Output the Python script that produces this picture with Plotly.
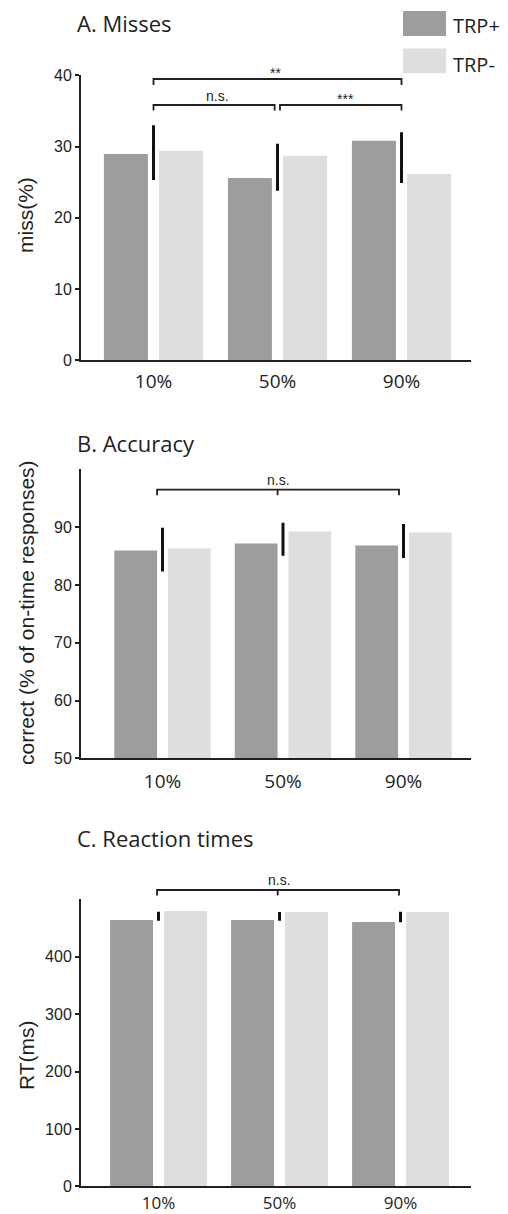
import plotly.graph_objects as go

# ---------------- data ----------------
categories = ["10%", "50%", "90%"]
groups = ["TRP+", "TRP-"]

miss_trp_plus = [28.95, 25.6, 30.8]
miss_trp_minus = [29.4, 28.7, 26.15]
miss_err_center = [29.15, 27.1, 28.45]
miss_err_half = [3.85, 3.3, 3.55]

acc_trp_plus = [85.95, 87.15, 86.8]
acc_trp_minus = [86.3, 89.25, 89.05]
acc_err_center = [86.1, 87.9, 87.6]
acc_err_half = [3.8, 2.85, 2.95]

rt_trp_plus = [464, 464, 460.5]
rt_trp_minus = [479.5, 478, 478]
rt_err_center = [470.5, 470.3, 469.2]
rt_err_half = [7.8, 7.6, 9.3]

miss_ticks = [0, 10, 20, 30, 40]
acc_ticks = [50, 60, 70, 80, 90]
rt_ticks = [0, 100, 200, 300, 400]

# ---------------- style ----------------
PAGE_OFF = 8                      # default body margin of the page
W, H = 508 - PAGE_OFF, 1214 - PAGE_OFF
DARK = "#9c9d9c"
LIGHT = "#dedede"
INK = "#231f20"
SANS = "Liberation Sans, Arial, sans-serif"
MYR = "Open Sans, Noto Sans, sans-serif"


def px(x):
    return (x - PAGE_OFF) / W


def py(y):
    return 1 - (y - PAGE_OFF) / H


xpos = list(range(len(categories)))

panels = [
    dict(plus=miss_trp_plus, minus=miss_trp_minus, ec=miss_err_center, eh=miss_err_half,
         ticks=miss_ticks, yrange=[0, 40], ydom=[py(360.3), py(75.3)],
         xrange=[(81 - 153.5) / 124, (471 - 153.5) / 124], standoff=3, xfs=19,
         title="A. Misses", title_y=22.6, ylabel="miss(%)", ylabel_y=215),
    dict(plus=acc_trp_plus, minus=acc_trp_minus, ec=acc_err_center, eh=acc_err_half,
         ticks=acc_ticks, yrange=[50, 100], ydom=[py(758.3), py(469.3)],
         xrange=[(81 - 162.5) / 120.5, (471 - 162.5) / 120.5], standoff=5, xfs=19,
         title="B. Accuracy", title_y=442.5, ylabel="correct (% of on-time responses)", ylabel_y=613),
    dict(plus=rt_trp_plus, minus=rt_trp_minus, ec=rt_err_center, eh=rt_err_half,
         ticks=rt_ticks, yrange=[0, 500], ydom=[py(1186.3), py(899.3)],
         xrange=[(81 - 158.5) / 121, (471 - 158.5) / 121], standoff=0, xfs=17,
         title="C. Reaction times", title_y=838, ylabel="RT(ms)", ylabel_y=1055),
]

BAR_W = 0.355
OFF_PLUS = -0.40
OFF_MINUS = 0.045

fig = go.Figure()
layout = dict(width=W, height=H, margin=dict(l=0, r=0, t=0, b=0, autoexpand=False),
              paper_bgcolor="white", plot_bgcolor="white", showlegend=False,
              barmode="overlay")
shapes = []
annotations = []

for i, p in enumerate(panels, start=1):
    xa = "x" if i == 1 else f"x{i}"
    ya = "y" if i == 1 else f"y{i}"
    fig.add_trace(go.Bar(x=xpos, y=p["plus"], name=groups[0], marker=dict(color=DARK, line=dict(width=0)),
                         width=BAR_W, offset=OFF_PLUS, xaxis=xa, yaxis=ya))
    fig.add_trace(go.Bar(x=xpos, y=p["minus"], name=groups[1], marker=dict(color=LIGHT, line=dict(width=0)),
                         width=BAR_W, offset=OFF_MINUS, xaxis=xa, yaxis=ya))
    fig.add_trace(go.Scatter(x=xpos, y=p["ec"], mode="markers", marker=dict(size=1, color="rgba(0,0,0,0)"),
                             error_y=dict(type="data", array=p["eh"], symmetric=True, color="#111",
                                          thickness=3, width=0),
                             xaxis=xa, yaxis=ya, hoverinfo="skip"))
    axx = dict(domain=[px(81), px(471)], range=p["xrange"], anchor=ya, automargin=False,
               tickvals=xpos, ticktext=categories, ticks="", showline=True, linecolor=INK, linewidth=2,
               showgrid=False, zeroline=False, ticklabelstandoff=p["standoff"],
               tickfont=dict(family=MYR, size=p["xfs"], color=INK))
    axy = dict(domain=p["ydom"], range=p["yrange"], anchor=xa, tickvals=p["ticks"], automargin=False,
               ticks="outside", ticklen=4, tickwidth=2, tickcolor=INK,
               showline=True, linecolor=INK, linewidth=2, showgrid=False, zeroline=False,
               tickfont=dict(family=SANS, size=16, color=INK))
    layout["xaxis" if i == 1 else f"xaxis{i}"] = axx
    layout["yaxis" if i == 1 else f"yaxis{i}"] = axy

    annotations.append(dict(text=p["title"], xref="paper", yref="paper", x=px(76), y=py(p["title_y"]),
                            xanchor="left", yanchor="middle", showarrow=False, borderpad=0,
                            font=dict(family=MYR, size=22, color=INK)))
    annotations.append(dict(text=p["ylabel"], xref="paper", yref="paper", x=px(26), y=py(p["ylabel_y"]),
                            xanchor="center", yanchor="middle", showarrow=False, textangle=-90,
                            font=dict(family=SANS, size=21, color=INK)))


def bracket(xa, x0, x1, y, drop, mid=None):
    path = f"M {x0},{py(y + drop)} L {x0},{py(y)} L {x1},{py(y)} L {x1},{py(y + drop)}"
    if mid is not None:
        path += f" M {mid},{py(y)} L {mid},{py(y + drop)}"
    shapes.append(dict(type="path", xref=xa, yref="paper", path=path,
                       line=dict(color=INK, width=1.8)))


def sig(xa, x, y, text):
    annotations.append(dict(text=text, xref=xa, yref="paper", x=x, y=py(y), xanchor="center",
                            yanchor="middle", showarrow=False,
                            font=dict(family=SANS, size=14, color=INK)))


# Panel A significance
bracket("x", 0, 2, 79, 6)
sig("x", 0.985, 73, "**")
bracket("x", 0, 0.977, 105, 5.5)
sig("x", 0.52, 96, "n.s.")
bracket("x", 1.02, 2, 105, 5.5)
sig("x", 1.545, 99, "***")
# Panel B
bracket("x2", -0.045, 1.963, 489.7, 5.5, mid=0.955)
sig("x2", 0.965, 479.5, "n.s.")
# Panel C
bracket("x3", -0.012, 1.988, 890, 5.5, mid=0.985)
sig("x3", 1.0, 879.5, "n.s.")

# Legend
for name, col, y0, y1, ty in [(groups[0], DARK, 11, 36, 25.5), (groups[1], LIGHT, 48.5, 73.3, 64)]:
    shapes.append(dict(type="rect", xref="paper", yref="paper", x0=px(403), x1=px(446),
                       y0=py(y1), y1=py(y0), fillcolor=col, line=dict(width=0)))
    annotations.append(dict(text=name, xref="paper", yref="paper", x=px(452), y=py(ty),
                            xanchor="left", yanchor="middle", showarrow=False, borderpad=0,
                            font=dict(family=MYR, size=20, color=INK)))

layout["shapes"] = shapes
layout["annotations"] = annotations
fig.update_layout(**layout)
fig.write_html("out.html")
